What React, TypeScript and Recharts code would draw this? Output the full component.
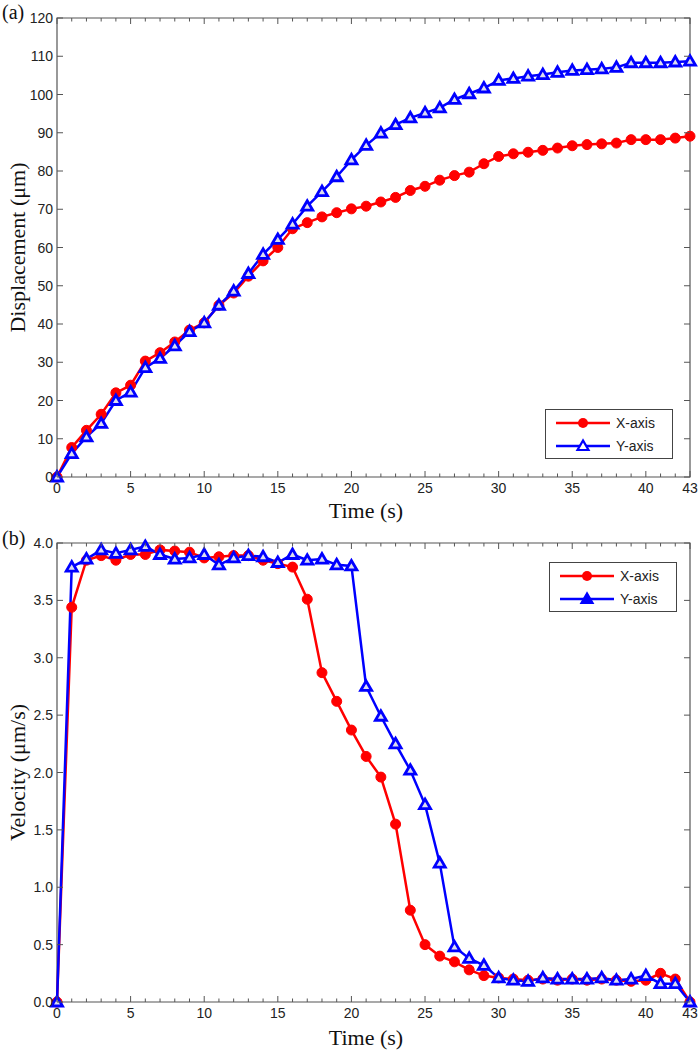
import { Label, Line, LineChart, ReferenceArea, XAxis, YAxis } from "recharts";

// time in seconds, one sample per second
const time = [
  0, 1, 2, 3, 4, 5, 6, 7, 8, 9, 10, 11, 12, 13, 14, 15, 16, 17, 18, 19, 20, 21,
  22, 23, 24, 25, 26, 27, 28, 29, 30, 31, 32, 33, 34, 35, 36, 37, 38, 39, 40, 41, 42, 43
];

// (a) displacement, µm
const dispX = [
  0, 7.7, 12.2, 16.4, 22.0, 24.0, 30.3, 32.5, 35.3, 38.4, 40.3, 44.9, 48.1, 52.5, 56.5,
  60.0, 64.9, 66.5, 68.0, 69.1, 70.1, 70.8, 71.9, 73.1, 74.9, 76.0, 77.6, 78.8, 79.7,
  81.9, 83.8, 84.5, 84.9, 85.4, 86.0, 86.6, 86.9, 87.1, 87.3, 88.2, 88.2, 88.2, 88.6, 89.1
];
const dispY = [
  0, 6.1, 10.5, 14.0, 20.0, 22.2, 28.6, 31.0, 34.3, 38.0, 40.3, 44.9, 48.6, 53.2, 58.2,
  62.1, 66.1, 70.8, 74.6, 78.5, 82.9, 86.7, 89.9, 92.1, 93.9, 95.2, 96.5, 98.7, 100.2,
  101.7, 103.7, 104.2, 104.8, 105.2, 105.8, 106.3, 106.5, 106.7, 107.1, 108.3, 108.3,
  108.3, 108.5, 108.7
];

// (b) velocity, µm/s
const velX = [
  0, 3.44, 3.85, 3.89, 3.85, 3.9, 3.9, 3.94, 3.93, 3.92, 3.87, 3.88, 3.89, 3.89, 3.85,
  3.82, 3.79, 3.51, 2.87, 2.62, 2.37, 2.14, 1.96, 1.55, 0.8, 0.5, 0.4, 0.35, 0.28, 0.23,
  0.21, 0.2, 0.19, 0.2, 0.19, 0.2, 0.19, 0.2, 0.19, 0.18, 0.19, 0.25, 0.2, 0
];
const velY = [
  0, 3.79, 3.86, 3.94, 3.91, 3.94, 3.97, 3.9, 3.86, 3.87, 3.9, 3.81, 3.87, 3.89, 3.88,
  3.83, 3.9, 3.85, 3.86, 3.81, 3.8, 2.75, 2.49, 2.25, 2.02, 1.72, 1.21, 0.48, 0.38, 0.32,
  0.21, 0.19, 0.18, 0.21, 0.2, 0.2, 0.2, 0.21, 0.19, 0.2, 0.23, 0.16, 0.16, 0
];

const timeMajor = [0, 5, 10, 15, 20, 25, 30, 35, 40, 43];
const dispTicks = [0, 10, 20, 30, 40, 50, 60, 70, 80, 90, 100, 110, 120];
const velTicks = [0, 0.5, 1, 1.5, 2, 2.5, 3, 3.5, 4];

const dispData = time.map((t, i) => ({ t, x: dispX[i], y: dispY[i] }));
const velData = time.map((t, i) => ({ t, x: velX[i], y: velY[i] }));

const RED = "#ff0000";
const BLUE = "#0000ff";
const AXIS = "#555";
const SANS = "'Liberation Sans', Arial, sans-serif";
const SERIF = "'Liberation Serif', 'Times New Roman', serif";

// plot box inside each chart
const PL = 57;
const PR = 690;
const PT = 18;
const PB = 477;

function xTick(props: any) {
  const { x, payload } = props;
  const major = timeMajor.includes(payload.value);
  const len = major ? 6 : 3.5;
  return (
    <g>
      <line x1={x} x2={x} y1={PB} y2={PB - len} stroke={AXIS} strokeWidth={1} />
      <line x1={x} x2={x} y1={PT} y2={PT + len} stroke={AXIS} strokeWidth={1} />
      {major && (
        <text x={x} y={PB + 16} textAnchor="middle" fontSize={14} fontFamily={SANS} fill="#222">
          {payload.value}
        </text>
      )}
    </g>
  );
}

function makeYTick(fmt: (v: number) => string) {
  return (props: any) => {
    const { y, payload } = props;
    return (
      <g>
        <line x1={PL} x2={PL + 6} y1={y} y2={y} stroke={AXIS} strokeWidth={1} />
        <line x1={PR} x2={PR - 6} y1={y} y2={y} stroke={AXIS} strokeWidth={1} />
        <text x={53} y={y + 5} textAnchor="end" fontSize={14} fontFamily={SANS} fill="#222">
          {fmt(payload.value)}
        </text>
      </g>
    );
  };
}

function RedDot(props: any) {
  const { cx, cy } = props;
  if (cx == null || cy == null) return null;
  return <circle cx={cx} cy={cy} r={5} fill={RED} stroke={RED} strokeWidth={1} />;
}

function BlueTri(props: any) {
  const { cx, cy } = props;
  if (cx == null || cy == null) return null;
  return (
    <polygon
      points={`${cx},${cy - 5.5} ${cx - 5.5},${cy + 4} ${cx + 5.5},${cy + 4}`}
      fill="#dde"
      stroke={BLUE}
      strokeWidth={2.8}
      strokeLinejoin="miter"
    />
  );
}

function LegendBox({ left, top, solidTri }: { left: number; top: number; solidTri?: boolean }) {
  return (
    <svg
      width={129}
      height={51}
      style={{ position: "absolute", left, top, overflow: "visible" }}
    >
      <rect x={0.5} y={0.5} width={127} height={49} fill="#fff" stroke="#444" strokeWidth={1} />
      <line x1={11} x2={65} y1={14} y2={14} stroke={RED} strokeWidth={2.5} />
      <circle cx={38} cy={14} r={5} fill={RED} />
      <text x={71} y={19} fontSize={14} fontFamily={SANS} fill="#222">
        X-axis
      </text>
      <line x1={11} x2={65} y1={37} y2={37} stroke={BLUE} strokeWidth={2.5} />
      <polygon
        points="38,31.5 32.5,41 43.5,41"
        fill={solidTri ? BLUE : "#fff"}
        stroke={BLUE}
        strokeWidth={2.2}
      />
      <text x={71} y={42} fontSize={14} fontFamily={SANS} fill="#222">
        Y-axis
      </text>
    </svg>
  );
}

function Panel({
  data,
  height,
  yTicks,
  yMax,
  yTitle,
  fmt
}: {
  data: { t: number; x: number; y: number }[];
  height: number;
  yTicks: number[];
  yMax: number;
  yTitle: string;
  fmt: (v: number) => string;
}) {
  const titleY = height === 525 ? PB + 41 : PB + 43;
  return (
    <LineChart
      width={700}
      height={height}
      data={data}
      margin={{ top: PT, right: 700 - PR, bottom: 0, left: 0 }}
    >
      <XAxis
        dataKey="t"
        type="number"
        domain={[0, 43]}
        ticks={time}
        interval={0}
        height={height - PB}
        axisLine={false}
        tickLine={false}
        tick={xTick}
      >
        <Label
          content={() => (
            <text x={366} y={titleY} textAnchor="middle" fontSize={22} fontFamily={SERIF} fill="#111">
              Time (s)
            </text>
          )}
        />
      </XAxis>
      <YAxis
        type="number"
        domain={[0, yMax]}
        ticks={yTicks}
        interval={0}
        width={PL}
        axisLine={false}
        tickLine={false}
        tick={makeYTick(fmt)}
      >
        <Label
          content={() => (
            <text
              transform={`translate(25, ${(PT + PB) / 2}) rotate(-90)`}
              textAnchor="middle"
              fontSize={22}
              fontFamily={SERIF}
              fill="#111"
            >
              {yTitle}
            </text>
          )}
        />
      </YAxis>
      <ReferenceArea
        x1={0}
        x2={43}
        y1={0}
        y2={yMax}
        fill="none"
        stroke={AXIS}
        strokeWidth={1.2}
        ifOverflow="visible"
      />
      <Line
        type="linear"
        dataKey="x"
        stroke={RED}
        strokeWidth={2.5}
        dot={<RedDot />}
        activeDot={false}
        isAnimationActive={false}
      />
      <Line
        type="linear"
        dataKey="y"
        stroke={BLUE}
        strokeWidth={2.5}
        dot={<BlueTri />}
        activeDot={false}
        isAnimationActive={false}
      />
    </LineChart>
  );
}

export default function App() {
  return (
    <div
      style={{
        position: "absolute",
        left: 0,
        top: 0,
        width: 700,
        height: 1051,
        background: "#fff"
      }}
    >
      <div style={{ position: "absolute", left: 0, top: 0 }}>
        <Panel
          data={dispData}
          height={525}
          yTicks={dispTicks}
          yMax={120}
          yTitle="Displacement (μm)"
          fmt={(v) => String(v)}
        />
      </div>
      <div style={{ position: "absolute", left: 0, top: 525 }}>
        <Panel
          data={velData}
          height={526}
          yTicks={velTicks}
          yMax={4}
          yTitle="Velocity (μm/s)"
          fmt={(v) => v.toFixed(1)}
        />
      </div>
      <LegendBox left={545} top={409} />
      <LegendBox left={549} top={562} solidTri />
      <svg
        width={700}
        height={1051}
        style={{ position: "absolute", left: 0, top: 0, pointerEvents: "none" }}
      >
        <text x={2} y={19} fontSize={20} fontFamily={SERIF} fill="#111">
          (a)
        </text>
        <text x={2} y={545} fontSize={20} fontFamily={SERIF} fill="#111">
          (b)
        </text>
      </svg>
    </div>
  );
}
